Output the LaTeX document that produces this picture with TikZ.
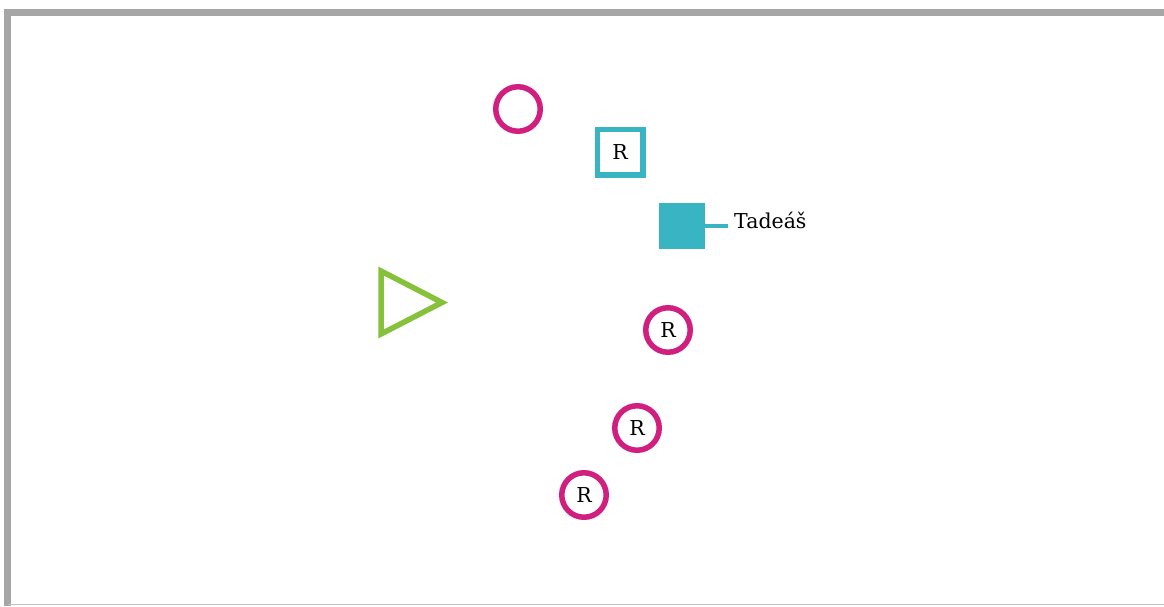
\documentclass[tikz,border=0pt]{standalone}
\usepackage{fontspec}
\setmainfont{DejaVu Serif}
\usepackage{tikz}
\usetikzlibrary{positioning}
\definecolor{rosa}{HTML}{D11F80}
\definecolor{tyrkys}{HTML}{38B4C3}
\definecolor{zelena}{HTML}{86C13B}
\definecolor{ramec}{HTML}{A6A6A6}
\tikzset{every node/.style={font=\fontsize{20.5}{24}\selectfont}}

\begin{document}
\begin{tikzpicture}[
    x=1pt, y=-1pt,
    kruh/.style={circle, draw=rosa, line width=5.5pt, minimum size=44.5pt, inner sep=0pt},
    ctverec/.style={rectangle, draw=tyrkys, line width=5.5pt, minimum size=45.5pt, inner sep=0pt},
    plny/.style={rectangle, fill=tyrkys, minimum size=46pt, inner sep=0pt},
    trojuhelnik/.style={draw=zelena, line width=5.5pt, line join=miter}
]
\useasboundingbox (0,0) rectangle (1164,606);

% frame
\draw[ramec, line width=7pt] (7.5,606) -- (7.5,12.5) -- (1164,12.5);
\draw[ramec!70, line width=1.5pt] (7.5,604.5) -- (1164,604.5);

\node (prazdny) [kruh] at (518,109) {};
\node (rctverec) [ctverec] at (620,152) {R};

\node (tadeas) [plny] at (682,226) {};
\coordinate (konec) at (728,226);
\node (jmeno) [anchor=base west, inner sep=0pt] at (734,228) {Tadeáš};

\node (r1) [kruh] at (668,330) {R};
\node (r2) [kruh] at (637,428) {R};
\node (r3) [kruh] at (584,495) {R};

\draw[trojuhelnik] (381,271) -- (442,302.5) -- (381,334) -- cycle;

\draw[tyrkys, line width=4.5pt] (tadeas.east) -- (konec);

\end{tikzpicture}
\end{document}
